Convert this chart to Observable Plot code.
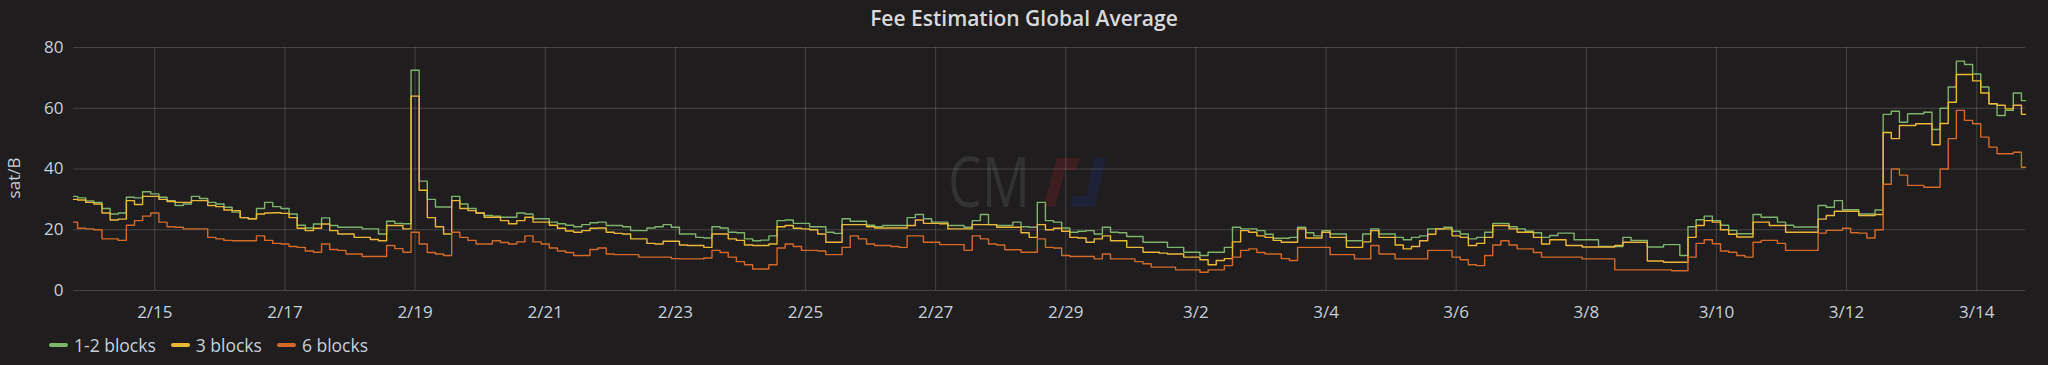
<!DOCTYPE html>
<html>
<head>
<meta charset="utf-8">
<script src="https://cdn.jsdelivr.net/npm/d3@7"></script>
<script src="https://cdn.jsdelivr.net/npm/@observablehq/plot@0.6"></script>
<style>
  html, body { margin: 0; padding: 0; background: #1f1d1e; }
  #wrap { position: relative; width: 2048px; height: 365px; background: #1f1d1e; overflow: hidden;
          font-family: "Open Sans", sans-serif; color: #d8d9da; }
  #title { position: absolute; left: 0; top: 3px; width: 2048px; text-align: center;
           font-size: 21px; font-weight: 600; line-height: 30px; color: #d8d9da; }
  #watermark { position: absolute; left: 0; top: 0; }
  #chart { position: absolute; left: 0; top: 30px; }
  #ylab { position: absolute; left: 13px; top: 178px; transform: translate(-50%, -50%) rotate(-90deg);
          font-size: 17px; color: #c7d0d9; white-space: nowrap; }
  #legend { position: absolute; left: 49px; top: 332px; display: flex; align-items: center;
            font-size: 17.5px; color: #c7d0d9; line-height: 26px; }
  .item { display: flex; align-items: center; margin-right: 15px; }
  .sw { width: 19px; height: 4px; border-radius: 2px; margin-right: 6px; }
</style>
</head>
<body>
<div id="wrap">
  <div id="title">Fee Estimation Global Average</div>
  <svg id="watermark" width="2048" height="365">
    <text x="948" y="207" textLength="82" lengthAdjust="spacingAndGlyphs" font-family="Open Sans"
          font-size="70" fill="#333233">CM</text>
    <polygon points="1056.7,158 1080,158 1076,170 1065.1,170 1055,207 1043.3,207" fill="#3e1d20"></polygon>
    <polygon points="1094,158 1106,158 1095,207 1070,207 1073,196 1086.4,196" fill="#1d2238"></polygon>
  </svg>
  <div id="chart"></div>
  <div id="ylab">sat/B</div>
  <div id="legend"></div>
</div>
<script>
// ---- data (3-hour samples starting 2024-02-13 18:00 UTC) ----
const startTime = "2024-02-13T18:00:00Z";
const endTime = "2024-03-14T18:00:00Z";
const stepHours = 3;

const blocks12 = [
  31, 30.5, 29.5, 29, 27, 25.2, 25.5, 30.7, 30.5, 32.5, 31.8,
  30.7, 29.6, 28, 28.5, 31, 30.3, 29, 28.5, 27.4, 25.8,
  24, 23.6, 27, 29, 27.6, 27, 25.2, 21.5, 20.6, 21.9,
  23.9, 21.4, 20.8, 20.8, 20.8, 20.3, 20.3, 18.6, 22.8, 22.1,
  22, 72.5, 36, 30, 27.5, 27.5, 31, 28.5, 27, 25.5,
  24.7, 24.5, 24.1, 24.1, 25.5, 25.2, 23.6, 23.6, 22.5, 22,
  21.5, 21, 21.7, 22.3, 22.5, 21.4, 21.4, 21, 19.7, 19.7,
  20.6, 21, 21.7, 20.8, 18.6, 18.6, 17.5, 17.3, 21, 20.6,
  19.2, 19, 17, 16.4, 16.6, 18, 23, 23.2, 22.1, 22.1,
  21, 21, 19.2, 18.8, 23.6, 22.8, 22.8, 21.5, 21, 21.4,
  21.4, 21.4, 24, 25, 23.6, 22.5, 22.5, 21.4, 21.4, 20.8,
  23, 25, 21.7, 21.4, 21.4, 22.5, 21, 20.8, 29, 23,
  22.5, 20.6, 19.2, 19.5, 19.7, 18.6, 20.8, 19.2, 19, 17.8,
  17.8, 15.9, 15.9, 15.9, 14.2, 14.2, 12.6, 12.6, 11.5, 12.6,
  12.6, 14.2, 20.8, 20.3, 20.3, 19.7, 18.5, 17.2, 17.2, 17.5,
  20.8, 19, 18, 19.7, 18.6, 18.6, 16.4, 16.4, 18.6, 20.3,
  18.6, 18.6, 17.5, 16.7, 17.5, 18, 20.3, 20.3, 20.8, 19.5,
  18.6, 17, 17.5, 19.2, 22.1, 22.1, 21, 20.3, 19.5, 19,
  17.5, 18.1, 18.9, 18.9, 16.7, 16.7, 16.7, 14.5, 14.5, 14.5,
  17.5, 16.5, 16.5, 14.3, 14.3, 15.1, 15.1, 11.5, 21, 23.3,
  24.5, 23, 21.5, 19.8, 18.7, 18.7, 25, 24.1, 24.1, 22.5,
  21.5, 20.9, 20.9, 20.9, 28, 27.4, 29.6, 26.6, 26.6, 25.2,
  25.2, 26.5, 58, 59, 55.4, 58.2, 58.2, 58.7, 53, 60,
  67, 75.5, 74.4, 71.3, 67, 61.5, 57.6, 59.3, 65, 62.5
];
const blocks3 = [
  30, 29.8, 29, 28.5, 25.5, 23.2, 23.5, 29.6, 28.3, 31, 31,
  30, 29.3, 29, 29, 29.6, 29.6, 28, 27.6, 26.5, 26.3,
  24, 23.6, 25.2, 25.5, 25.6, 25.4, 24, 20.5, 19.7, 20.5,
  21.9, 19.7, 18.6, 18.6, 17.5, 17.5, 16.8, 16.4, 21.4, 21.4,
  20.3, 64, 33, 24, 21, 18.6, 29.6, 27, 26.3, 25.5,
  24.1, 24.1, 23, 22, 23, 24.1, 22.5, 22.5, 21.5, 20.5,
  19.6, 19.2, 19.7, 20.5, 20.6, 19.2, 18.8, 18.6, 17, 17,
  15.5, 15.3, 16.2, 16.2, 15, 14.8, 14.8, 14.2, 18.6, 18.6,
  17, 16.5, 15, 14.8, 14.8, 15.3, 21, 21.4, 20.5, 20.3,
  20, 18.6, 15.9, 15.9, 21.7, 21.7, 21.7, 21, 20.6, 20.6,
  20.6, 20.6, 21.4, 23.2, 22.1, 22.1, 22, 20.3, 20.3, 20.3,
  21.7, 21.7, 21.7, 20.8, 20.8, 20.8, 19, 17.5, 21.7, 20,
  20.5, 19.5, 17.5, 17.3, 15.9, 17, 18, 16.4, 16.4, 14.2,
  14.2, 12.6, 12.6, 12.3, 12, 12, 11, 11, 10.1, 8.5,
  9.9, 10.5, 16, 19.7, 19.2, 18, 17.5, 16.5, 15.9, 15.9,
  20.3, 17.3, 17.3, 19.2, 17.5, 17.5, 14.2, 14.2, 16, 19.7,
  17.5, 17.5, 15, 13.7, 14.5, 16.4, 18.5, 20.3, 20.3, 18,
  17.5, 14.8, 15.5, 17.5, 21.4, 21.4, 20.3, 19.2, 19.2, 17.5,
  15.3, 16.7, 16.7, 14.8, 14.8, 14.3, 14.3, 14.3, 14.3, 14.8,
  15.9, 15.9, 15.9, 9.7, 9.7, 9.3, 9.3, 9.3, 17.5, 21.4,
  23, 22.5, 20, 18.5, 17.6, 17.6, 22.5, 22.5, 21.4, 21.4,
  19.2, 19.2, 19.2, 19.2, 23.5, 24.7, 26.1, 26.1, 26.1, 24.7,
  24.7, 25, 52, 50, 54.3, 54.3, 54.9, 54.9, 48, 55,
  62, 71.1, 71.1, 69, 65, 61.5, 61, 59.8, 61, 58
];
const blocks6 = [
  22.5, 20.5, 20.3, 20, 17, 17, 16.5, 21.5, 23, 24.5, 25.5,
  22.5, 21, 20.8, 20.3, 20.3, 20.3, 17.5, 17, 16.5, 16.4,
  16.4, 16.4, 18, 16.5, 15.5, 15.3, 14.5, 14.2, 13, 12.6,
  15.3, 13.5, 13.2, 12, 12, 11.2, 11.2, 11.2, 14.8, 13.8,
  12.6, 19.2, 15.3, 12.5, 12, 11.5, 19.2, 17.5, 16.5, 15.3,
  15.3, 16.4, 15.8, 15.3, 16, 18, 16, 15.3, 14, 13,
  12.5, 11.5, 11.5, 13.5, 14, 12, 11.8, 11.8, 11.8, 11,
  11, 11, 11, 10.5, 10.4, 10.4, 10.4, 10.7, 13.2, 12.5,
  11, 9.5, 8.5, 7.1, 7.1, 8.5, 14, 15.3, 14.5, 13.2,
  13.2, 13, 11.8, 11.8, 14.2, 18, 17, 15.3, 14.8, 14.8,
  14.5, 14.2, 18, 18, 15.9, 15.9, 15.1, 15.1, 15.1, 13.2,
  18, 17, 15.3, 15, 13.4, 13.4, 12.6, 12.6, 17, 14.2,
  14, 11.5, 11.2, 11.2, 11.2, 10.4, 12, 10.4, 10.4, 10.4,
  9.5, 8.8, 7.7, 7.7, 7.7, 6.8, 6.8, 6.8, 6, 6.8,
  6.8, 8.2, 11, 13.2, 13.7, 12.5, 12, 12, 10.5, 9.9,
  14.2, 14.2, 14.2, 14.2, 11.8, 11.8, 11.8, 10.4, 10.4, 14.8,
  12, 12, 10.4, 10.4, 10.4, 10.4, 13.2, 13.2, 13.2, 11,
  10.1, 8.5, 8.2, 11.5, 15, 16.4, 15, 13.7, 13.7, 12.5,
  11, 11, 11, 11, 11, 10.4, 10.4, 10.4, 10.4, 6.8,
  6.8, 6.8, 6.8, 6.8, 6.8, 6.8, 6.5, 6.5, 11, 15.5,
  16.7, 15.4, 13, 12.6, 11.5, 11, 15.9, 16.5, 16.5, 15.5,
  13.2, 13.2, 13.2, 13.2, 18.9, 19.8, 19.8, 20.5, 19, 18.9,
  17.3, 20, 35, 40, 38, 34.6, 34.6, 34, 34, 40,
  50, 59.3, 56, 54.9, 50.5, 47.2, 45, 45, 45.5, 40.6
];

const seriesNames = ["1-2 blocks", "3 blocks", "6 blocks"];
const seriesColors = ["#7eb26d", "#eab839", "#d2692a"];
const xTickDates = ["2024-02-15", "2024-02-17", "2024-02-19", "2024-02-21", "2024-02-23",
  "2024-02-25", "2024-02-27", "2024-02-29", "2024-03-02", "2024-03-04", "2024-03-06",
  "2024-03-08", "2024-03-10", "2024-03-12", "2024-03-14"];
const yTicks = [0, 20, 40, 60, 80];
const yLabel = "sat/B";

// ---- build table ----
const t0 = new Date(startTime).getTime();
const seriesValues = [blocks12, blocks3, blocks6];
const rows = [];
seriesValues.forEach((vals, si) => {
  vals.forEach((v, i) => rows.push({ t: new Date(t0 + i * stepHours * 3600e3), v, s: seriesNames[si] }));
});
const xTicks = xTickDates.map(d => new Date(d + "T00:00:00Z"));
const fmt = d3.utcFormat("%-m/%-d");

const gridStyle = { stroke: "#ffffff", strokeOpacity: 0.17, strokeWidth: 1 };

const chart = Plot.plot({
  width: 2048,
  height: 295,
  marginTop: 17,
  marginBottom: 35,
  marginLeft: 73,
  marginRight: 23,
  style: { background: "transparent", color: "#c7d0d9", fontFamily: "Open Sans, sans-serif", fontSize: "17px", overflow: "visible" },
  x: { type: "utc", domain: [new Date(startTime), new Date(endTime)] },
  y: { domain: [0, 80] },
  color: { domain: seriesNames, range: seriesColors },
  marks: [
    Plot.gridY(yTicks, gridStyle),
    Plot.gridX(xTicks, gridStyle),
    Plot.line(rows, { x: "t", y: "v", z: "s", stroke: "s", strokeWidth: 1.4, curve: "step", strokeLinejoin: "round" }),
    Plot.axisY(yTicks, { tickSize: 0, tickPadding: 10, label: null, fontSize: 17, fill: "#c7d0d9" }),
    Plot.axisX(xTicks, { tickSize: 0, tickPadding: 15, label: null, tickFormat: fmt, fontSize: 17, fill: "#c7d0d9" })
  ]
});
document.getElementById("chart").appendChild(chart);
document.getElementById("ylab").textContent = yLabel;

const legend = document.getElementById("legend");
seriesNames.forEach((name, i) => {
  const item = document.createElement("div");
  item.className = "item";
  const sw = document.createElement("div");
  sw.className = "sw";
  sw.style.background = seriesColors[i];
  const label = document.createElement("span");
  label.textContent = name;
  item.appendChild(sw);
  item.appendChild(label);
  legend.appendChild(item);
});
</script>
</body>
</html>
